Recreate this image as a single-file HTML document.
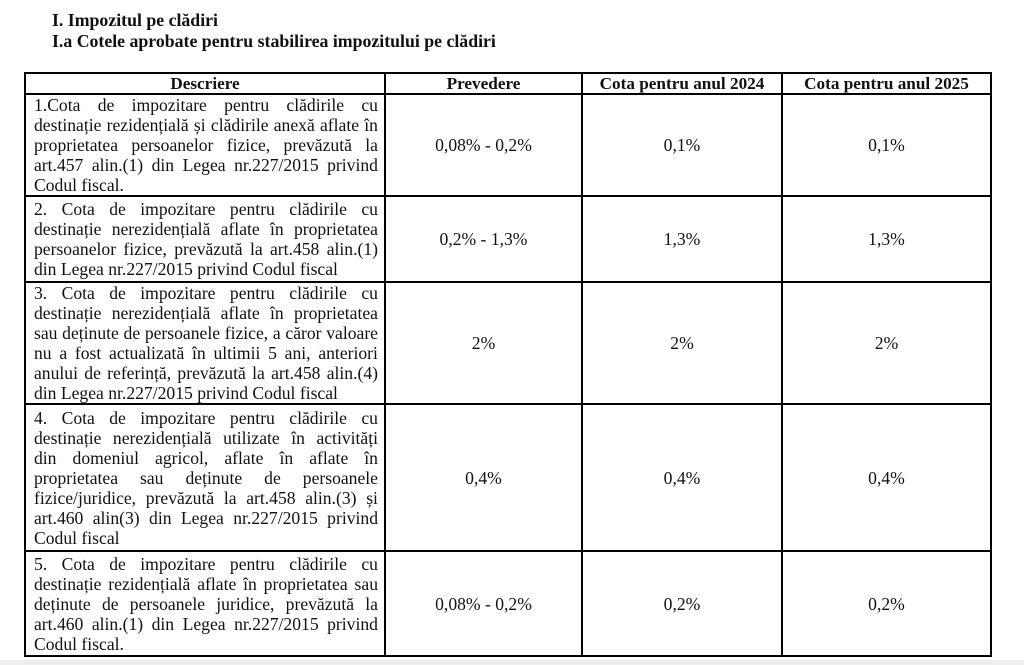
<!DOCTYPE html>
<html><head><meta charset="utf-8"><style>
body{margin:0;background:#fff;width:1024px;height:665px;overflow:hidden;position:relative;font-family:"Liberation Serif",serif;color:#111}
.t{position:absolute;left:52px;font-weight:bold;font-size:17.8px;line-height:20px}
table{position:absolute;left:24px;top:72px;border-collapse:collapse;table-layout:fixed}
td,th{border:2px solid #000;font-size:17.6px;line-height:20px;padding:0 4px;vertical-align:middle;overflow:hidden}
th{height:19px;font-weight:bold;font-size:17.2px;line-height:19px}
td{text-align:center}
td.d{text-align:left;padding:0 6px 0 8px}
td.d div{white-space:nowrap;display:flex;justify-content:space-between}
td.d div.l{display:block;text-align:left;text-align-last:left}
.bar{position:absolute;left:0;top:660px;width:1024px;height:5px;background:#eee}
</style></head><body>
<div class="t" style="top:10px">I. Impozitul pe clădiri</div>
<div class="t" style="top:31px">I.a Cotele aprobate pentru stabilirea impozitului pe clădiri</div>
<table>
<colgroup><col style="width:360px"><col style="width:197px"><col style="width:200px"><col style="width:209px"></colgroup>
<tr><th>Descriere</th><th>Prevedere</th><th>Cota pentru anul 2024</th><th>Cota pentru anul 2025</th></tr>
<tr style="height:102px"><td class="d">
<div><span>1.Cota</span><span>de</span><span>impozitare</span><span>pentru</span><span>clădirile</span><span>cu</span></div>
<div><span>destinație</span><span>rezidențială</span><span>și</span><span>clădirile</span><span>anexă</span><span>aflate</span><span>în</span></div>
<div><span>proprietatea</span><span>persoanelor</span><span>fizice,</span><span>prevăzută</span><span>la</span></div>
<div><span>art.457</span><span>alin.(1)</span><span>din</span><span>Legea</span><span>nr.227/2015</span><span>privind</span></div>
<div class="l">Codul fiscal.</div></td><td>0,08% - 0,2%</td><td>0,1%</td><td>0,1%</td></tr>
<tr style="height:86px"><td class="d">
<div><span>2.</span><span>Cota</span><span>de</span><span>impozitare</span><span>pentru</span><span>clădirile</span><span>cu</span></div>
<div><span>destinație</span><span>nerezidențială</span><span>aflate</span><span>în</span><span>proprietatea</span></div>
<div><span>persoanelor</span><span>fizice,</span><span>prevăzută</span><span>la</span><span>art.458</span><span>alin.(1)</span></div>
<div class="l">din Legea nr.227/2015 privind Codul fiscal</div></td><td>0,2% - 1,3%</td><td>1,3%</td><td>1,3%</td></tr>
<tr style="height:122px"><td class="d">
<div><span>3.</span><span>Cota</span><span>de</span><span>impozitare</span><span>pentru</span><span>clădirile</span><span>cu</span></div>
<div><span>destinație</span><span>nerezidențială</span><span>aflate</span><span>în</span><span>proprietatea</span></div>
<div><span>sau</span><span>deținute</span><span>de</span><span>persoanele</span><span>fizice,</span><span>a</span><span>căror</span><span>valoare</span></div>
<div><span>nu</span><span>a</span><span>fost</span><span>actualizată</span><span>în</span><span>ultimii</span><span>5</span><span>ani,</span><span>anteriori</span></div>
<div><span>anului</span><span>de</span><span>referință,</span><span>prevăzută</span><span>la</span><span>art.458</span><span>alin.(4)</span></div>
<div class="l">din Legea nr.227/2015 privind Codul fiscal</div></td><td>2%</td><td>2%</td><td>2%</td></tr>
<tr style="height:147px"><td class="d">
<div><span>4.</span><span>Cota</span><span>de</span><span>impozitare</span><span>pentru</span><span>clădirile</span><span>cu</span></div>
<div><span>destinație</span><span>nerezidențială</span><span>utilizate</span><span>în</span><span>activități</span></div>
<div><span>din</span><span>domeniul</span><span>agricol,</span><span>aflate</span><span>în</span><span>aflate</span><span>în</span></div>
<div><span>proprietatea</span><span>sau</span><span>deținute</span><span>de</span><span>persoanele</span></div>
<div><span>fizice/juridice,</span><span>prevăzută</span><span>la</span><span>art.458</span><span>alin.(3)</span><span>și</span></div>
<div><span>art.460</span><span>alin(3)</span><span>din</span><span>Legea</span><span>nr.227/2015</span><span>privind</span></div>
<div class="l">Codul fiscal</div></td><td>0,4%</td><td>0,4%</td><td>0,4%</td></tr>
<tr style="height:105px"><td class="d">
<div><span>5.</span><span>Cota</span><span>de</span><span>impozitare</span><span>pentru</span><span>clădirile</span><span>cu</span></div>
<div><span>destinație</span><span>rezidențială</span><span>aflate</span><span>în</span><span>proprietatea</span><span>sau</span></div>
<div><span>deținute</span><span>de</span><span>persoanele</span><span>juridice,</span><span>prevăzută</span><span>la</span></div>
<div><span>art.460</span><span>alin.(1)</span><span>din</span><span>Legea</span><span>nr.227/2015</span><span>privind</span></div>
<div class="l">Codul fiscal.</div></td><td>0,08% - 0,2%</td><td>0,2%</td><td>0,2%</td></tr>
</table>
<div class="bar"></div>
</body></html>
